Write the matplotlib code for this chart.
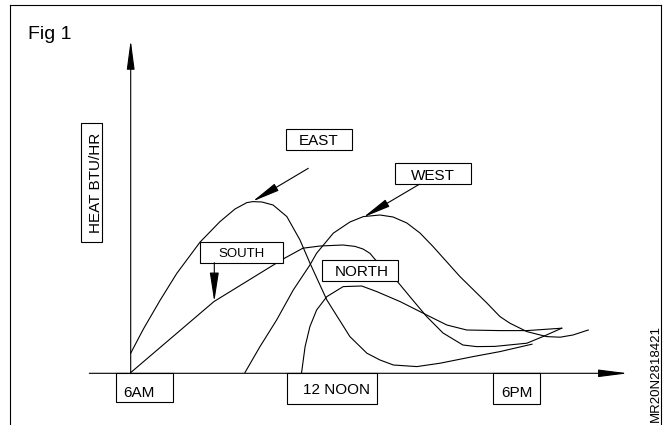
import matplotlib
matplotlib.use("Agg")
import matplotlib.pyplot as plt
from matplotlib.patches import Rectangle
from matplotlib.lines import Line2D

plt.rcParams['font.family'] = ['Liberation Sans', 'DejaVu Sans']

# ---- data: hour of day (6 = 6AM, 12 = noon, 18 = 6PM) and relative heat gain ----
east_hours = [6.00, 6.39, 6.92, 7.44, 8.17, 8.79, 9.26, 9.63, 9.82, 10.10, 10.45, 10.88,
              11.29, 11.60, 12.13, 12.85, 13.38, 13.79, 14.21, 14.94, 15.67, 16.70, 17.54, 18.54]
east_heat = [9.9, 21.8, 36.4, 49.8, 65.5, 75.7, 82.0, 85.2, 85.7, 85.5, 84.0, 78.2,
             66.5, 55.0, 36.5, 18.2, 9.9, 6.5, 4.0, 3.2, 4.9, 8.2, 10.7, 14.4]

south_hours = [6.00, 8.60, 10.51, 10.82, 11.38, 11.92, 12.63, 13.01, 13.26, 13.48, 13.63,
               13.98, 14.31, 14.76, 15.25, 15.76, 16.38, 16.81, 17.38, 18.38, 18.88, 19.47]
south_heat = [0.2, 35.7, 54.5, 57.5, 62.4, 63.5, 64.0, 63.3, 62.0, 59.8, 56.9,
              51.5, 46.2, 37.5, 28.2, 20.0, 14.0, 13.2, 13.3, 14.9, 18.2, 22.4]

west_hours = [9.57, 10.04, 10.56, 11.08, 11.60, 11.81, 12.33, 12.85, 13.27, 13.79, 14.20,
              14.63, 15.04, 15.45, 16.29, 17.13, 17.54, 17.85, 18.38, 19.00, 19.42, 19.82, 20.30]
west_heat = [0.2, 13.2, 26.5, 41.5, 54.0, 59.9, 69.9, 75.5, 78.2, 79.0, 78.0,
             75.0, 70.0, 63.2, 48.2, 35.0, 28.2, 24.9, 20.7, 18.2, 17.9, 19.0, 21.5]

north_hours = [11.34, 11.45, 11.60, 11.81, 12.13, 12.64, 13.22, 13.69, 14.42, 15.25,
               15.88, 16.50, 17.54, 18.38, 19.47]
north_heat = [0.2, 13.2, 23.2, 31.5, 38.2, 43.2, 43.5, 40.7, 35.7, 29.0,
              24.0, 21.5, 21.2, 21.2, 22.4]

series_names = ['EAST', 'SOUTH', 'WEST', 'NORTH']
time_labels = ['6AM', '12 NOON', '6PM']
y_label = 'HEAT BTU/HR'
fig_title = 'Fig 1'
code_text = 'MR20N2818421'

# ---- layout helpers (pixel position -> data coordinates) ----
X0_PX, PX_PER_HOUR = 130.7, 32.0
Y0_PX, PX_PER_UNIT = 373.0, 2.0


def X(px):
    return 6 + (px - X0_PX) / PX_PER_HOUR


def Y(py):
    return (Y0_PX - py) / PX_PER_UNIT


fig = plt.figure(figsize=(6.67, 4.25), dpi=100)
ax = fig.add_axes([0, 0, 1, 1])
ax.set_xlim(X(0), X(667))
ax.set_ylim(Y(425), Y(0))
ax.axis('off')

LW = 0.8
INK = 'black'

# curves
for hrs, heat in [(east_hours, east_heat), (south_hours, south_heat),
                  (west_hours, west_heat), (north_hours, north_heat)]:
    ax.plot(hrs, heat, color=INK, lw=LW, solid_joinstyle='round', zorder=2)


def box(x0, y0, x1, y1):
    ax.add_patch(Rectangle((X(x0), Y(y1)), X(x1) - X(x0), Y(y0) - Y(y1),
                           facecolor='white', edgecolor=INK, lw=LW, zorder=3))


def arrow(start, tip, hl, hw):
    ax.annotate('', xy=(X(tip[0]), Y(tip[1])), xytext=(X(start[0]), Y(start[1])),
                arrowprops=dict(arrowstyle=f'-|>,head_length={hl},head_width={hw}',
                                color=INK, lw=LW, shrinkA=0, shrinkB=0,
                                mutation_scale=1),
                zorder=4)


# frame (open at the bottom)
for xs, ys in [((10, 10), (425, 5)), ((10, 660.5), (5, 5)), ((660.5, 660.5), (5, 425))]:
    ax.add_line(Line2D([X(xs[0]), X(xs[1])], [Y(ys[0]), Y(ys[1])], color=INK,
                       lw=LW, clip_on=False))

# axes arrows
arrow((130.7, 373.3), (130.7, 40), 18, 2.4)
arrow((89.3, 373.3), (628, 373.3), 18, 2.3)

# title
ax.text(X(28), Y(39), fig_title, fontsize=14, ha='left', va='baseline', zorder=5)

# y label box
box(80.7, 123.3, 102.3, 241.7)
ax.text(X(99.5), Y(182.5), y_label, fontsize=11, rotation=90, rotation_mode='anchor',
        ha='center', va='baseline', zorder=5)

# series label boxes
box(286, 129.3, 352.3, 150)
ax.text(X(319), Y(145), series_names[0], fontsize=11, ha='center', va='baseline', zorder=5)
arrow((308.3, 168.3), (252.5, 201.5), 17, 2.5)

box(200, 242.3, 283.3, 262.7)
ax.text(X(241.7), Y(256.7), series_names[1], fontsize=9.5, ha='center', va='baseline', zorder=5)
arrow((214.3, 262.7), (214.3, 301.7), 18, 2.8)

box(395, 163.3, 471, 184.3)
ax.text(X(433), Y(180), series_names[2], fontsize=11, ha='center', va='baseline', zorder=5)
arrow((419.3, 184.3), (363.3, 217.3), 17, 2.5)

box(321.7, 260, 398.3, 280.7)
ax.text(X(362), Y(275.7), series_names[3], fontsize=11, ha='center', va='baseline', zorder=5)

# time label boxes
box(115.7, 373.3, 173.3, 402.3)
ax.text(X(139), Y(396.7), time_labels[0], fontsize=11, ha='center', va='baseline', zorder=5)
box(287.3, 373.3, 376.7, 404.3)
ax.text(X(336.3), Y(394.3), time_labels[1], fontsize=11, ha='center', va='baseline', zorder=5)
box(493.3, 373.3, 540, 404.3)
ax.text(X(517.3), Y(397), time_labels[2], fontsize=11, ha='center', va='baseline', zorder=5)

# reference code
ax.text(X(659), Y(373), code_text, fontsize=9.5, rotation=90, rotation_mode='anchor',
        ha='center', va='baseline', zorder=5)

fig.savefig('out.png', dpi=100)
